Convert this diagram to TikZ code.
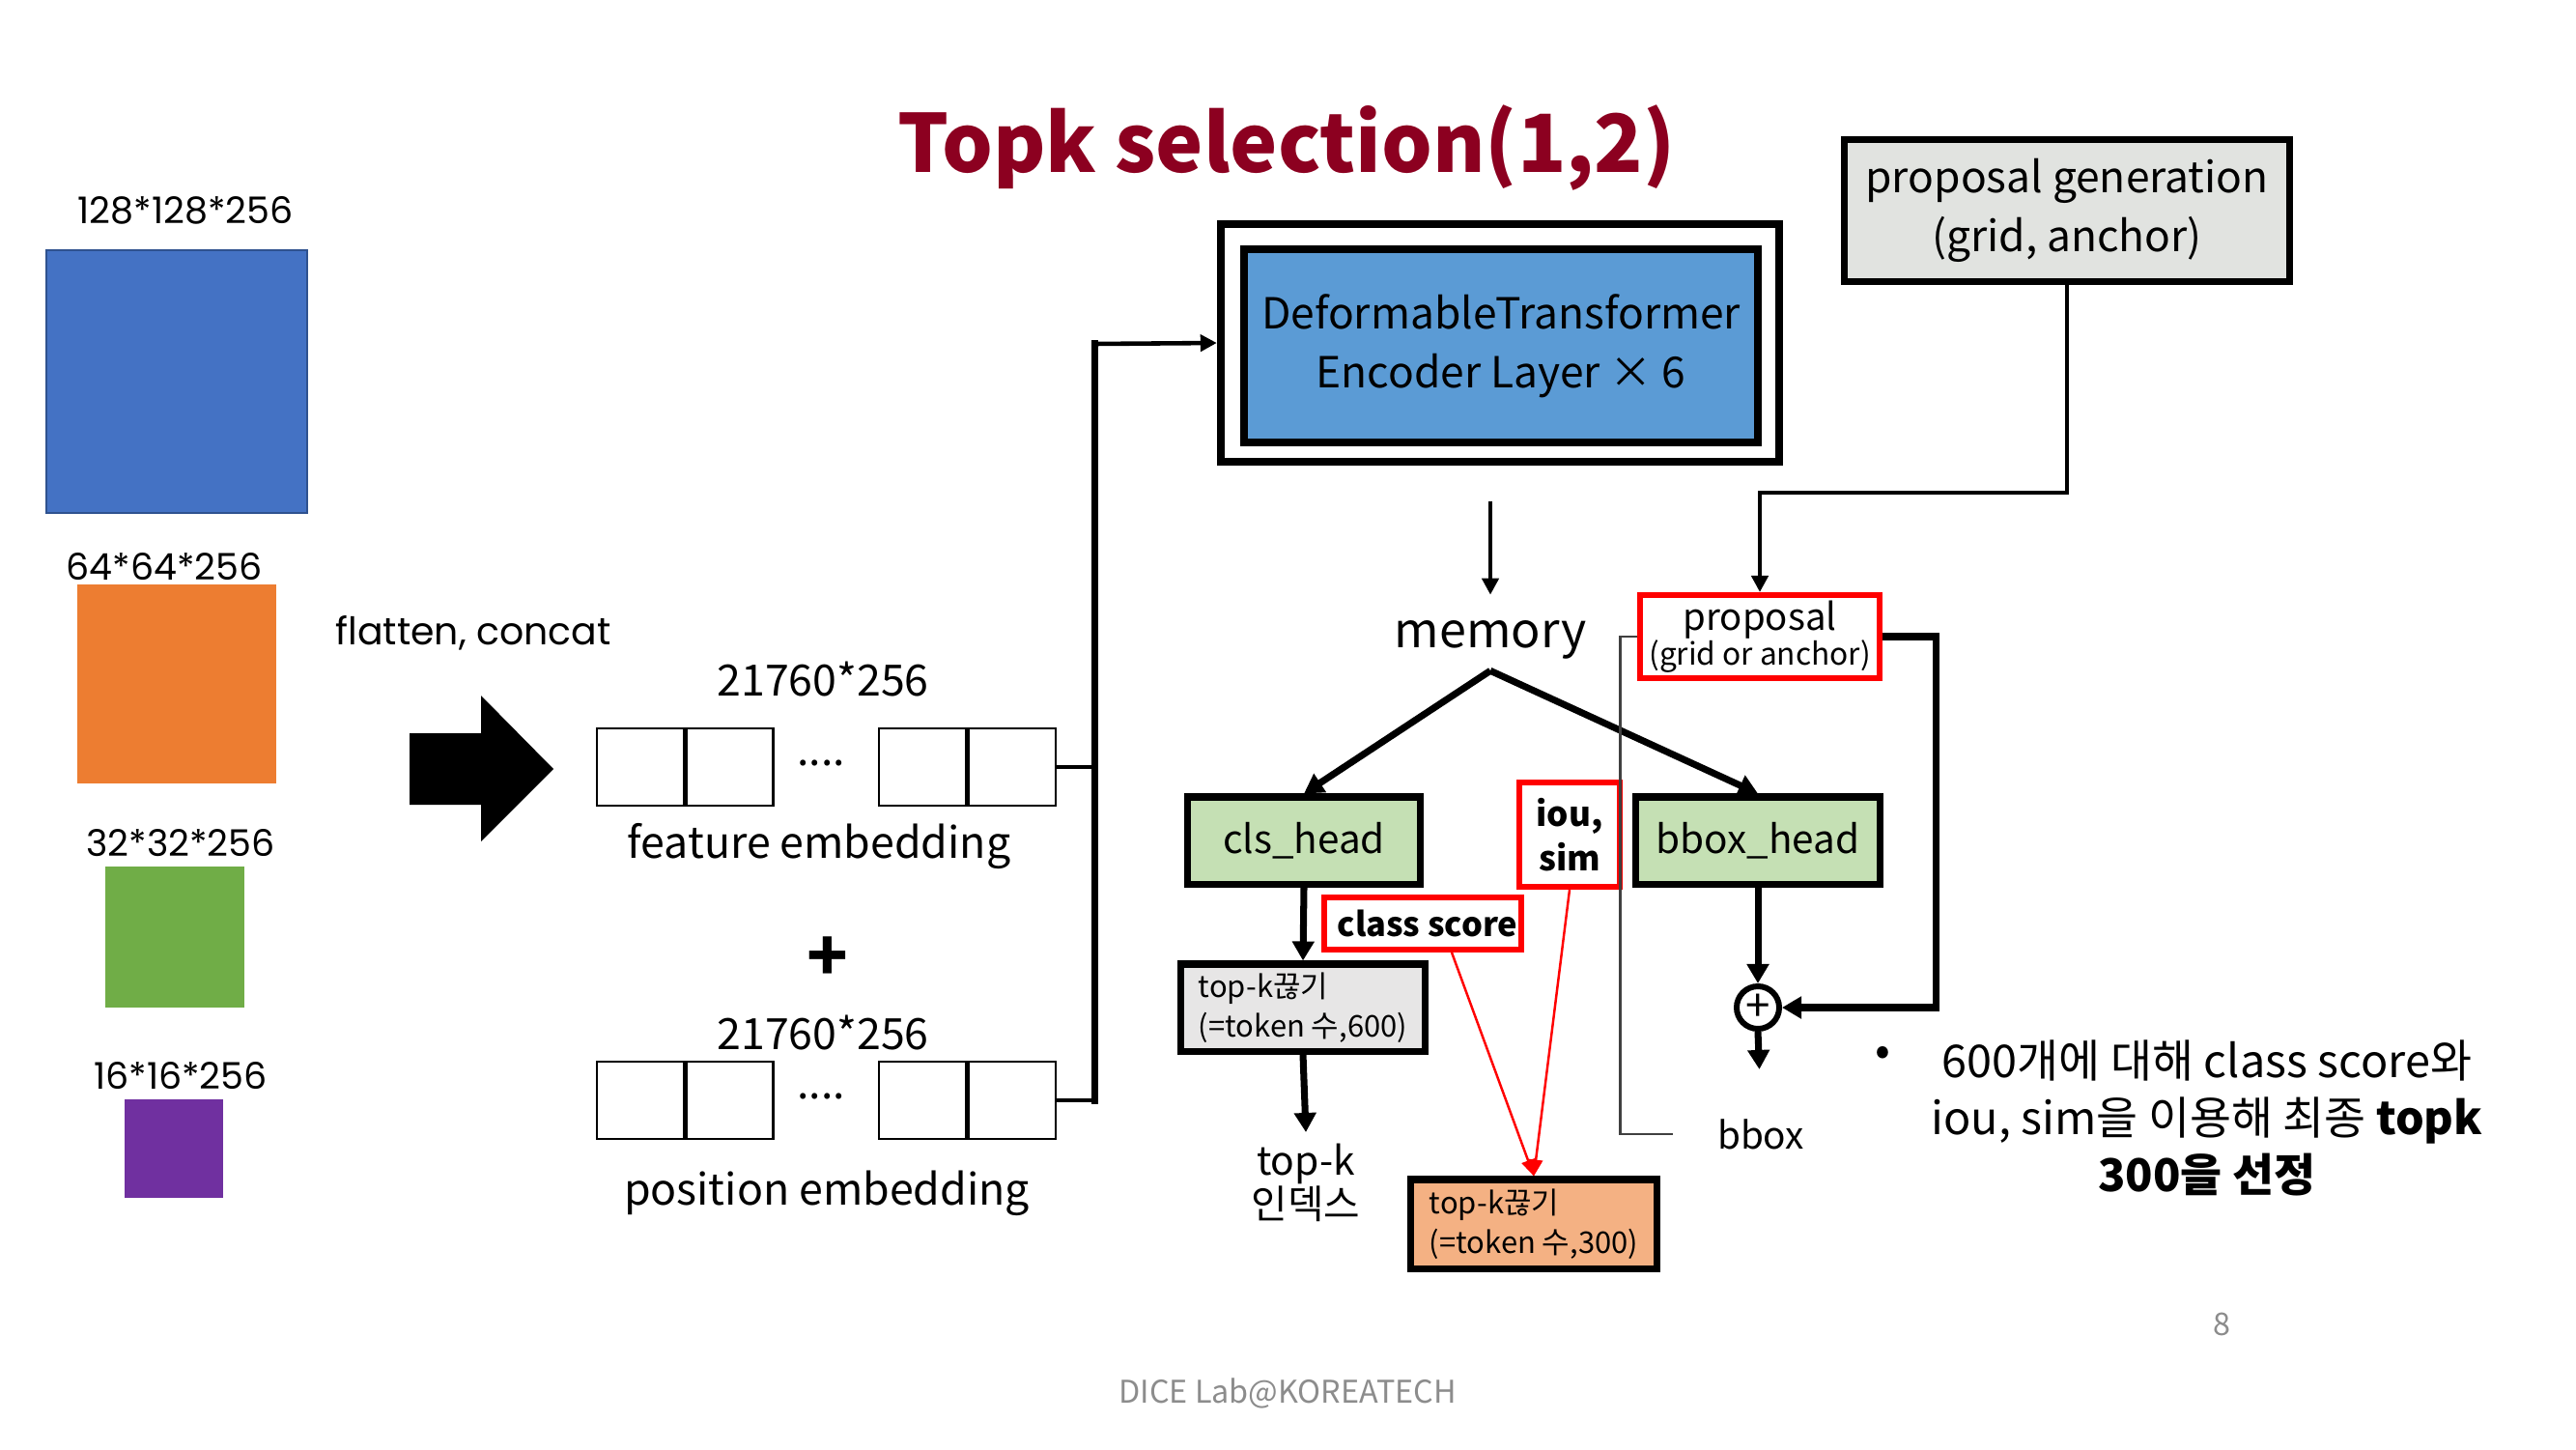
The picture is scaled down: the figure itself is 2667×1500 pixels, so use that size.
\documentclass[tikz,border=0pt]{standalone}
\usepackage{fontspec}
\setmainfont{Noto Sans CJK KR}
\newfontfamily\geofont{Poppins}
\usetikzlibrary{arrows.meta,positioning,calc}

\definecolor{titlered}{RGB}{140,0,32}
\definecolor{hotred}{RGB}{255,0,0}
\definecolor{lvlblue}{HTML}{4472C4}
\definecolor{lvlblueedge}{HTML}{2F528F}
\definecolor{lvlorange}{HTML}{ED7D31}
\definecolor{lvlgreen}{HTML}{70AD47}
\definecolor{lvlpurple}{HTML}{7030A0}
\definecolor{encblue}{HTML}{5B9BD5}
\definecolor{headgreen}{HTML}{C5E0B4}
\definecolor{boxgray}{HTML}{E7E6E6}
\definecolor{pggray}{HTML}{E1E3E0}
\definecolor{topkorange}{HTML}{F4B183}
\definecolor{footgray}{HTML}{8C8C8C}

\begin{document}
\begin{tikzpicture}[x=0.01cm, y=-0.01cm,
  lvl/.style={inner sep=0pt, line width=0.6pt},
  dimlbl/.style={font=\geofont\fontsize{10.8}{13}\selectfont},
  cell/.style={draw, line width=0.8pt, minimum width=0.9cm, minimum height=0.8cm, inner sep=0pt},
  lbl/.style={font=\fontsize{12.7}{15}\selectfont},
  blk/.style={draw, line width=2pt, inner sep=0pt, align=center, font=\fontsize{11.5}{14}\selectfont},
  redbox/.style={draw=hotred, line width=1.7pt, fill=white, inner sep=0pt, align=center},
  note/.style={align=left, font=\fontsize{8.8}{11.6}\selectfont},
  arr/.style={-{Triangle[length=0.17cm,width=0.17cm]}, line width=1.3pt},
  thickarr/.style={-{Triangle[length=0.2cm,width=0.22cm]}, line width=2pt},
  redarr/.style={-{Triangle[length=0.17cm,width=0.14cm]}, draw=hotred, line width=0.7pt}
]
\useasboundingbox (0,0) rectangle (2667,1500);

\node[font=\bfseries\fontsize{23.6}{28}\selectfont, text=titlered] (title) at (1332,153) {Topk selection(1,2)};

\node[lvl, fill=lvlblue, draw=lvlblueedge, minimum width=2.7cm, minimum height=2.71cm] (l1) at (183,395) {};
\node[lvl, fill=lvlorange, minimum width=2.06cm, minimum height=2.05cm] (l2) at (183,708) {};
\node[lvl, fill=lvlgreen, minimum width=1.44cm, minimum height=1.45cm] (l3) at (181,970) {};
\node[lvl, fill=lvlpurple, minimum width=1.02cm, minimum height=1.02cm] (l4) at (180,1189) {};
\node[dimlbl] (l1lbl) at (192,218) {128*128*256};
\node[dimlbl] (l2lbl) at (170,587) {64*64*256};
\node[dimlbl] (l3lbl) at (187,873) {32*32*256};
\node[dimlbl] (l4lbl) at (187,1114) {16*16*256};

\node[font=\geofont\fontsize{11.2}{13}\selectfont] (flat) at (490,655) {flatten, concat};
\fill (424,759) -- (498,759) -- (498,720) -- (573,796) -- (498,871) -- (498,833) -- (424,833) -- cycle;

\node[lbl] (fesize) at (852,703) {21760*256};
\node[cell] (fe1) at (663,794) {};
\node[cell, right=0cm of fe1] (fe2) {};
\node[cell] (fe3) at (955,794) {};
\node[cell, right=0cm of fe3] (fe4) {};
\node[lbl] (fedots) at (850,790) {....};
\node[lbl] (felbl) at (848,876) {feature embedding};

\node[font=\bfseries\fontsize{20}{24}\selectfont] (plussign) at (857,993) {+};

\node[lbl] (pesize) at (852,1069) {21760*256};
\node[cell] (pe1) at (663,1139) {};
\node[cell, right=0cm of pe1] (pe2) {};
\node[cell] (pe3) at (955,1139) {};
\node[cell, right=0cm of pe3] (pe4) {};
\node[lbl] (pedots) at (850,1135) {....};
\node[lbl] (pelbl) at (856,1235) {position embedding};

\node[draw, line width=2.3pt, minimum width=5.78cm, minimum height=2.45cm] (encbox) at (1553,355) {};
\node[draw, line width=2.3pt, fill=encblue, minimum width=5.32cm, minimum height=1.99cm, align=center, font=\fontsize{12.6}{17.4}\selectfont] (enc) at (1554,358) {\raisebox{-0.07cm}{DeformableTransformer}\\\raisebox{-0.07cm}{Encoder Layer × 6}};

\coordinate (bus) at (1133,356);
\draw[line width=1.2pt] (fe4.east) -- (fe4.east -| bus);
\draw[line width=1.2pt] (pe4.east) -- (pe4.east -| bus);
\draw[line width=2pt, line cap=rect] (pe4.east -| bus) -- (bus);
\draw[arr] (bus) -- (encbox.west);

\node[draw, line width=2pt, fill=pggray, minimum width=4.61cm, minimum height=1.46cm, align=center, font=\fontsize{12.6}{17.4}\selectfont] (pg) at (2140,218) {\raisebox{-0.07cm}{proposal generation}\\\raisebox{-0.07cm}{(grid, anchor)}};

\node[font=\fontsize{14.3}{17}\selectfont] (mem) at (1543,662) {memory};
\draw[arr, shorten <=0.37cm, shorten >=0.14cm] (encbox.south -| mem.north) -- (mem.north);

\node[redbox, minimum width=2.47cm, minimum height=0.86cm, font=\fontsize{9}{10.2}\selectfont] (prop) at (1822,659) {{\fontsize{10.9}{10.2}\selectfont proposal}\\(grid or anchor)};
\coordinate (pgturn) at (2140,510);
\draw[arr] (pg.south) -- (pgturn) -| (prop.north);

\node[blk, fill=headgreen, minimum width=2.4cm, minimum height=0.9cm] (cls) at (1350,870) {\raisebox{-0.04cm}{cls\_head}};
\node[blk, fill=headgreen, minimum width=2.52cm, minimum height=0.9cm] (bbox) at (1820,870) {\raisebox{-0.04cm}{bbox\_head}};
\draw[thickarr] (mem.south) -- (cls.north);
\draw[thickarr] (mem.south) -- (bbox.north);

\node[redbox, font=\bfseries\fontsize{10}{13}\selectfont, minimum width=1.04cm, minimum height=1.08cm] (iou) at (1625,864) {iou,\\sim};
\node[redbox, font=\bfseries\fontsize{9.8}{12}\selectfont, minimum width=2.04cm, minimum height=0.54cm] (score) at (1473,956) {\hspace{0.1cm}class score};

\node[blk, fill=boxgray, note, minimum width=2.53cm, minimum height=0.9cm] (topk) at (1349,1043) {top-k끊기\\(=token 수,600)};
\draw[thickarr] (cls.south) -- (topk.north);
\node[anchor=north, align=center, font=\fontsize{11.6}{12.6}\selectfont] (idx) at (1352,1172) {top-k\\인덱스};
\draw[thickarr] (topk.south) -- (idx.north);

\node[blk, fill=topkorange, note, minimum width=2.54cm, minimum height=0.92cm] (topk300) at (1588,1267) {top-k끊기\\(=token 수,300)};
\draw[redarr] ($(score.south)+(30,0)$) -- (topk300.north);
\draw[redarr] (iou.south) -- (topk300.north);

\node[circle, draw, line width=1.7pt, minimum size=0.44cm, inner sep=0pt, font=\fontsize{13}{13}\selectfont] (plus) at (1820,1043) {+};
\node[font=\fontsize{11}{13}\selectfont] (bboxlbl) at (1823,1174) {bbox};
\draw[thickarr] (bbox.south) -- (plus.north);
\draw[thickarr, shorten >=0.39cm] (plus.south) -- (bboxlbl.north);
\draw[thickarr] (prop.east) -- ++(56,0) |- (plus.east);

\coordinate (bboxgap) at (1732,1174);
\draw[black!75, line width=0.6pt] (prop.west) -- ++(-18,0) |- (bboxgap);

\node[font=\fontsize{13.3}{16.8}\selectfont] (bullet) at (1949,1093) {•};
\node[align=center, font=\fontsize{13.3}{16.8}\selectfont] (summary) at (2285,1157) {600개에 대해 class score와\\iou, sim을 이용해 최종 \textbf{topk}\\\textbf{300을 선정}};

\node[text=footgray, font=\fontsize{9.2}{11}\selectfont] (pagenum) at (2300,1371) {8};
\node[text=footgray, font=\fontsize{9.2}{11}\selectfont] (foot) at (1333,1442) {DICE Lab@KOREATECH};

\end{tikzpicture}
\end{document}
